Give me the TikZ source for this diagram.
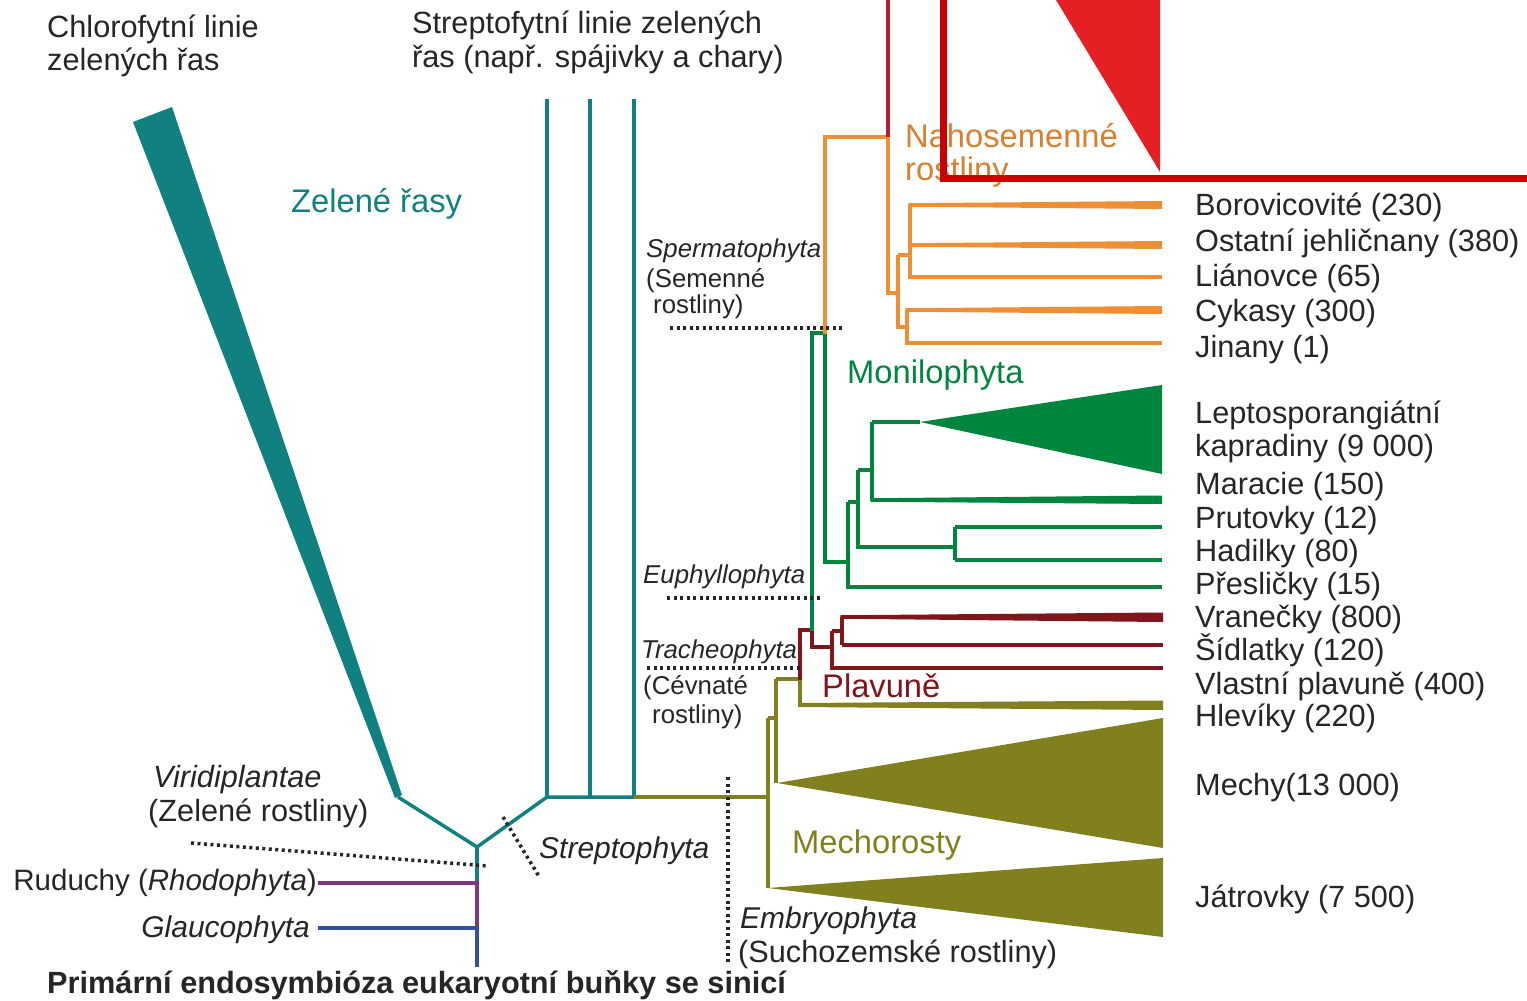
\documentclass[tikz,border=0pt]{standalone}
\usepackage{fontspec}
\setmainfont{Liberation Sans}
\definecolor{tealc}{RGB}{16,128,128}
\definecolor{orng}{RGB}{240,142,52}
\definecolor{grn}{RGB}{0,133,62}
\definecolor{dred}{RGB}{128,22,28}
\definecolor{olv}{RGB}{128,128,30}
\definecolor{purp}{RGB}{125,55,125}
\definecolor{blu}{RGB}{48,80,160}
\definecolor{boxred}{RGB}{200,0,0}
\definecolor{trired}{RGB}{228,32,36}
\definecolor{angred}{RGB}{180,30,50}
\definecolor{txt}{RGB}{38,38,38}
\begin{document}
\begin{tikzpicture}[x=1pt,y=-1pt,
  br/.style={line width=3.5pt, line join=miter, line cap=butt},
  dotl/.style={line width=3.5pt, black!85, dash pattern=on 3pt off 3.5pt},
  lab/.style={anchor=base west, inner sep=0pt, text=txt, font=\fontsize{30.7}{34}\selectfont},
  labe/.style={anchor=base east, inner sep=0pt, text=txt, font=\fontsize{30}{34}\selectfont},
  sml/.style={anchor=base west, inner sep=0pt, text=txt, font=\fontsize{25.8}{30}\selectfont\itshape},
  smlu/.style={anchor=base west, inner sep=0pt, text=txt, font=\fontsize{25.8}{30}\selectfont},
  clade/.style={anchor=base west, inner sep=0pt, font=\fontsize{32.7}{36}\selectfont}]
\useasboundingbox (0,0) rectangle (1527,1001);
\fill[white] (0,0) rectangle (1527,1001);

% ---------- key coordinates ----------
\coordinate (chl) at (398,797);
\coordinate (root) at (477,847);
\coordinate (str) at (547,797);
\coordinate (s2) at (590,797);
\coordinate (s3) at (634,797);
\coordinate (emb) at (768,797);

% ---------- Chlorophyta wedge and teal lines ----------
\fill[tealc] (133,122) -- (172,107) -- (402,795) -- (395,798) -- cycle;
\draw[br,tealc] (chl) -- (root) -- (str) -- (s3);
\draw[br,tealc] (str) -- (547,99);
\draw[br,tealc] (s2) -- (590,99);
\draw[br,tealc] (s3) -- (634,99);

% root and outgroups
\draw[br,tealc] (root) -- (477,881);
\draw[br,purp] (477,881) -- (477,926);
\draw[br,blu] (477,926) -- (477,967);
\coordinate (rud) at (477,883);
\coordinate (gla) at (477,928);
\draw[br,purp] (318,883) -- (rud);
\draw[br,blu] (318,928) -- (gla);

% ---------- Embryophyta (olive) ----------
\draw[br,olv] (s3) -- (emb);
\draw[br,olv] (768,718) -- (768,888);
\draw[br,olv] (768,718) -- (776,718);
\draw[br,olv] (776,679) -- (776,783);
\draw[br,olv] (776,679) -- (800,679);
\draw[br,olv] (800,679) -- (800,707);
\fill[olv] (798.25,703) -- (1163,700.5) -- (1163,710) -- (798.25,707) -- cycle;
\fill[olv] (777,783) -- (1163,718) -- (1163,848) -- cycle;
\fill[olv] (768,888) -- (1163,858) -- (1163,937) -- cycle;

% ---------- Lycophytes (dark red) ----------
\draw[br,dred] (800,680) -- (800,630) -- (812,630) -- (812,647) -- (832,647);
\draw[br,dred] (832,631) -- (832,668) -- (1163,668);
\draw[br,dred] (832,631) -- (842,631);
\draw[br,dred] (842,645) -- (842,617);
\fill[dred] (840.25,615.25) -- (1163,612.5) -- (1163,622) -- (840.25,618.75) -- cycle;
\draw[br,dred] (842,645) -- (1163,645);

% ---------- Euphyllophyta / Monilophyta (green) ----------
\draw[br,grn] (812,631) -- (812,333) -- (825,333) -- (825,562) -- (848,562);
\draw[br,grn] (848,502) -- (848,587) -- (1162,587);
\draw[br,grn] (848,502) -- (858,502);
\draw[br,grn] (858,470) -- (858,547) -- (955,547);
\draw[br,grn] (858,470) -- (872,470);
\draw[br,grn] (872,422) -- (872,500);
\fill[grn] (870.25,498.25) -- (1162,495.5) -- (1162,504) -- (870.25,501.75) -- cycle;
\draw[br,grn] (872,422) -- (920,422);
\fill[grn] (920,422) -- (1162,385) -- (1162,474) -- cycle;
\draw[br,grn] (955,527) -- (955,560);
\draw[br,grn] (955,527) -- (1162,527);
\draw[br,grn] (955,560) -- (1162,560);

% ---------- Seed plants (orange) ----------
\draw[br,orng] (825,334) -- (825,137) -- (888,137);
\draw[br,angred] (888,137) -- (888,-5);
\draw[br,orng] (888,137) -- (888,293) -- (898,293);
\draw[br,orng] (898,255) -- (898,327) -- (907,327);
\draw[br,orng] (898,255) -- (910,255);
\draw[br,orng] (910,205) -- (910,277) -- (1162,277);
\fill[orng] (908.25,203.25) -- (1162,201) -- (1162,209) -- (908.25,206.75) -- cycle;
\fill[orng] (908.25,243.25) -- (1162,241) -- (1162,249) -- (908.25,246.75) -- cycle;
\draw[br,orng] (907,310) -- (907,343) -- (1162,343);
\fill[orng] (905.25,308.25) -- (1162,306) -- (1162,314) -- (905.25,311.75) -- cycle;

% ---------- dotted markers ----------
\draw[dotl] (670,328) -- (845,328);
\draw[dotl] (667,598) -- (820,598);
\draw[dotl] (647,668) -- (800,668);
\draw[dotl] (728,777) -- (728,962);
\draw[dotl] (191,843) -- (488,866);
\draw[dotl] (503,817) -- (540,878);

% ---------- labels ----------
\node[lab] (t1a) at (47,37) {Chlorofytní linie};
\node[lab] (t1b) at (47,70) {zelených řas};
\node[lab] (t2a) at (412,33) {Streptofytní linie zelených};
\node[lab] (t2b) at (412,67) {řas (např. spájivky a chary)};
\node[clade,text=tealc] (zr) at (291,212) {Zelené řasy};

\node[sml] (sp1) at (646,257) {Spermatophyta};
\node[smlu] (sp2) at (646,287) {(Semenné};
\node[smlu] (sp3) at (653,313) {rostliny)};
\node[clade,text=grn] (mon) at (847,383) {Monilophyta};
\node[sml] (eu) at (643,583) {Euphyllophyta};
\node[sml] (tr1) at (641,658) {Tracheophyta};
\node[smlu] (tr2) at (643,694) {(Cévnaté};
\node[smlu] (tr3) at (652,723) {rostliny)};
\node[clade,text=dred] (pla) at (822,697) {Plavuně};
\node[clade,text=olv] (mch) at (792,853) {Mechorosty};

\node[lab,font=\fontsize{30.7}{34}\selectfont\itshape] (vir1) at (153,787) {Viridiplantae};
\node[lab] (vir2) at (148,821) {(Zelené rostliny)};
\node[labe,font=\fontsize{29.5}{34}\selectfont] (rudl) at (317,890) {Ruduchy (\textit{Rhodophyta})};
\node[labe,font=\fontsize{30}{34}\selectfont\itshape] (glal) at (310,937) {Glaucophyta};
\node[lab,font=\fontsize{30}{34}\selectfont\itshape] (strl) at (539,858) {Streptophyta};
\node[lab,font=\fontsize{30}{34}\selectfont\itshape] (emb1) at (740,928) {Embryophyta};
\node[lab] (emb2) at (738,962) {(Suchozemské rostliny)};
\node[lab,font=\fontsize{30.7}{34}\selectfont\bfseries] (prim) at (47,993) {Primární endosymbióza eukaryotní buňky se sinicí};

\node[clade,text=orng!90!black] (nah1) at (905,147) {Nahosemenné};
\node[clade,text=orng!90!black] (nah2) at (905,180) {rostliny};

% right-hand taxa
\node[lab] at (1195,215) {Borovicovité (230)};
\node[lab] at (1195,251) {Ostatní jehličnany (380)};
\node[lab] at (1195,286) {Liánovce (65)};
\node[lab] at (1195,321) {Cykasy (300)};
\node[lab] at (1195,357) {Jinany (1)};
\node[lab] at (1195,423) {Leptosporangiátní};
\node[lab] at (1195,456) {kapradiny (9 000)};
\node[lab] at (1195,494) {Maracie (150)};
\node[lab] at (1195,528) {Prutovky (12)};
\node[lab] at (1195,561) {Hadilky (80)};
\node[lab] at (1195,594) {Přesličky (15)};
\node[lab] at (1195,627) {Vranečky (800)};
\node[lab] at (1195,660) {Šídlatky (120)};
\node[lab] at (1195,694) {Vlastní plavuně (400)};
\node[lab] at (1195,726) {Hlevíky (220)};
\node[lab] at (1195,795) {Mechy(13 000)};
\node[lab] at (1195,907) {Játrovky (7 500)};

% ---------- red overlay (cropped angiosperm triangle and frame) ----------
\fill[trired] (1053,-5) -- (1160,-5) -- (1160,172) -- cycle;
\draw[boxred,line width=7pt,line join=miter] (943,-20) -- (943,178) -- (1545,178);
\end{tikzpicture}
\end{document}
